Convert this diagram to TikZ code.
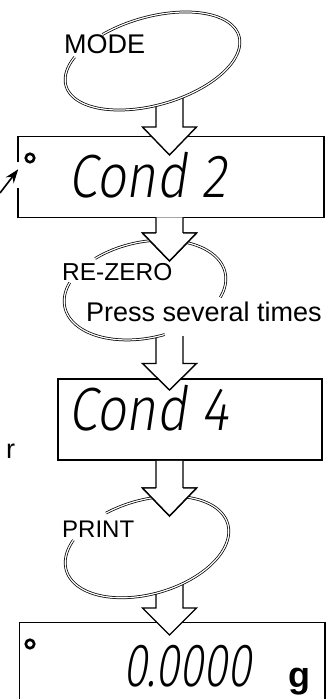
\documentclass[tikz,border=0pt]{standalone}
\usepackage{fontspec}
\setmainfont{Liberation Sans}
\IfFontExistsTF{Fira Sans Light}{%
  \newfontfamily\segfont[FakeSlant=0.15,FakeStretch=0.86]{Fira Sans Light}%
  \newfontfamily\segnum[FakeSlant=0.15,FakeStretch=0.72]{Fira Sans Light}}{%
  \newfontfamily\segfont[FakeSlant=0.15,FakeStretch=0.86]{DejaVu Sans}%
  \newfontfamily\segnum[FakeSlant=0.15,FakeStretch=0.72]{DejaVu Sans}}
\usetikzlibrary{calc,arrows.meta}
% block arrow: #1 top-left y, #2 top-right y, #3 shoulder y, #4 tip y
\newcommand\blkarrow[4]{%
  \fill[white] (156,#1) -- (156,#3) -- (142.5,#3) -- (169.5,#4) -- (196.5,#3) -- (183,#3) -- (183,#2) -- cycle;
  \draw[arrowline] (156,#1) -- (156,#3) -- (142.5,#3) -- (169.5,#4) -- (196.5,#3) -- (183,#3) -- (183,#2);}
\newcommand\blkhead[2]{%
  \fill[white] (142.5,#1) -- (169.5,#2) -- (196.5,#1) -- cycle;
  \draw[arrowline] (156,#1) -- (142.5,#1) -- (169.5,#2) -- (196.5,#1) -- (183,#1);}
\begin{document}
\begin{tikzpicture}[x=1pt,y=1pt,
  box/.style={draw, line width=1.5pt, inner sep=0, shape=rectangle},
  segtext/.style={font=\segfont\fontsize{61}{61}\selectfont, anchor=base west, inner sep=0},
  segdigits/.style={font=\segnum\fontsize{61}{61}\selectfont, anchor=base west, inner sep=0, text depth=0pt},
  lbl/.style={anchor=base west, inner sep=0},
  loop/.style={draw=black, double=white, line width=0.75pt, double distance=1.2pt},
  arrowline/.style={line width=1.4pt, line join=miter},
  lamp/.style={circle, draw, line width=2.6pt, minimum size=8.5pt, inner sep=0}]
\useasboundingbox (0,0) rectangle (328,-699);

% display boxes
\node[box, draw=none, minimum width=304.5pt, minimum height=79.5pt] (b1) at (170.75,-176.75) {};
\draw[line width=1.5pt] ($(b1.north west)+(0,-26)$) -- (b1.north west) -- (b1.north east)
   -- (b1.south east) -- (b1.south west) -- ($(b1.north west)+(0,-52)$);
\node[box, minimum width=264pt, minimum height=81pt] (b2) at (190,-419.5) {};
\node[box, draw=none, minimum width=304pt, minimum height=76pt] (b3) at (172,-661) {};
\draw[line width=1.5pt] (b3.south west) -- (b3.north west) -- (b3.north east) -- (b3.south east);

\node[lamp] (lamp1) at (30,-158) {};
\node[lamp] (lamp3) at (30,-644) {};

% pointer arrow to the lamp
\coordinate (ptail) at (0,-193);
\draw[line width=1.6pt, -{Stealth[length=14pt,width=10pt]}] (ptail) -- ($(b1.north west)+(0.5,-33)$);

% block arrows
\blkarrow{-106}{-97}{-127}{-155}
\blkarrow{-217.4}{-217.4}{-233}{-261}
\blkarrow{-336.5}{-336}{-363.5}{-390}
\blkarrow{-460.8}{-460.8}{-488}{-516}
\blkarrow{-593}{-583.4}{-608}{-635}

% key loops
\begin{scope}[shift={(152.5,-61)}, rotate=16]
  \draw[loop] plot[smooth, domain=145:477, samples=120, variable=\t] ({90*cos(\t)},{44*sin(\t)});
\end{scope}
\begin{scope}[shift={(145,-290)}, rotate=12]
  \draw[loop] plot[smooth, domain=151.6:277, samples=60, variable=\t] ({82*cos(\t)},{48*sin(\t)});
  \draw[loop] plot[smooth, domain=331.6:481, samples=80, variable=\t] ({82*cos(\t)},{48*sin(\t)});
\end{scope}
\begin{scope}[shift={(147,-547)}, rotate=16]
  \draw[loop] plot[smooth, domain=145:471, samples=120, variable=\t] ({84*cos(\t)},{47*sin(\t)});
\end{scope}

\blkhead{-233}{-261}
\blkhead{-488}{-516}

% display texts
\node[segtext] (t1) at (68,-197) {Cond 2};
\node[segtext] (t2) at (68,-430) {Cond 4};
\node[segdigits] (t3) at (123,-686) {0.0000};
\node[lbl, font=\bfseries\fontsize{36}{36}\selectfont] (unit) at (288,-687) {g};

% key labels
\node[lbl, font=\fontsize{27}{27}\selectfont] (mode) at (64,-53) {MODE};
\node[lbl, font=\fontsize{24.5}{24.5}\selectfont] (rezero) at (62,-280) {RE-ZERO};
\node[lbl, font=\fontsize{27}{27}\selectfont] (press) at (86,-321) {Press several times};
\node[lbl, font=\fontsize{24}{24}\selectfont] (print) at (62,-537) {PRINT};
\node[lbl, font=\fontsize{27}{27}\selectfont] (rr) at (6,-458) {r};
\end{tikzpicture}
\end{document}
